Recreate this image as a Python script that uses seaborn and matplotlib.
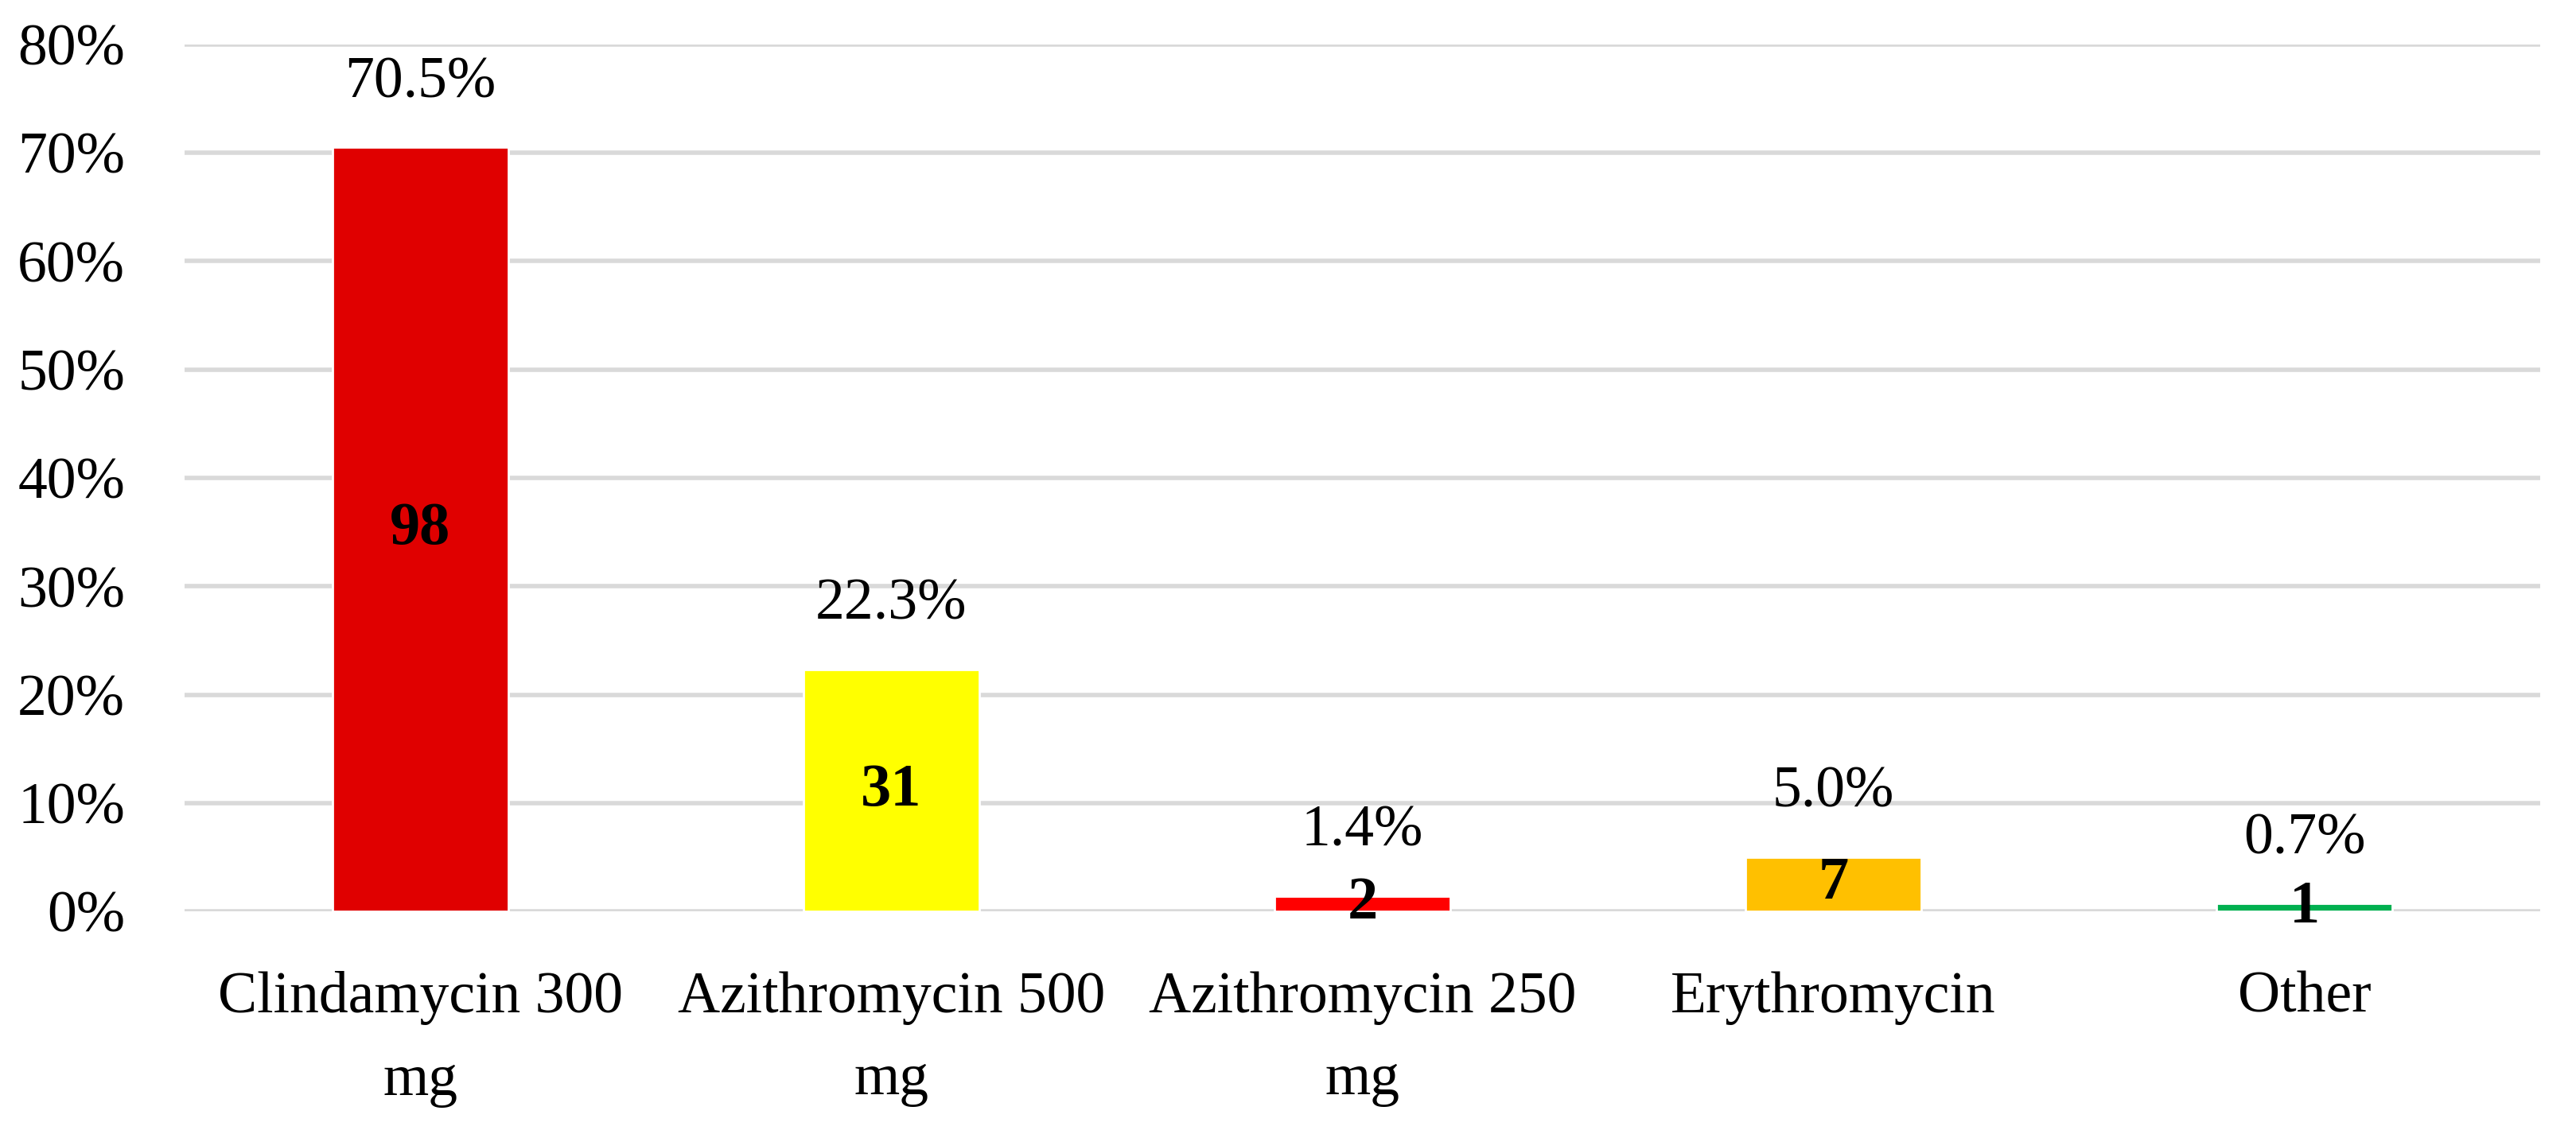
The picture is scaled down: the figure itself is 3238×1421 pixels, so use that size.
import numpy as np
import pandas as pd
import matplotlib
matplotlib.use("Agg")
import matplotlib.pyplot as plt
import seaborn as sns
from matplotlib.ticker import PercentFormatter

# chart data
categories = ["Clindamycin 300 mg", "Azithromycin 500 mg", "Azithromycin 250 mg",
              "Erythromycin", "Other"]
tick_labels = ["Clindamycin 300\nmg", "Azithromycin 500\nmg", "Azithromycin 250\nmg",
               "Erythromycin", "Other"]
percents = [70.5, 22.3, 1.4, 5.0, 0.7]
counts = [98, 31, 2, 7, 1]
bar_colors = ["#E00000", "#FFFF00", "#FF0000", "#FFC000", "#00B050"]
y_ticks = [0, 10, 20, 30, 40, 50, 60, 70, 80]

sns.set_theme(style="white")
plt.rcParams['font.family'] = ['Liberation Serif', 'DejaVu Serif']

df = pd.DataFrame({"drug": categories, "pct": percents})

fig = plt.figure(figsize=(16.19, 7.105), dpi=200)
ax = fig.add_axes([0.0717, 0.1935, 0.9143, 0.7671])

sns.barplot(data=df, x="drug", y="pct", hue="drug", palette=bar_colors,
            legend=False, width=0.373, saturation=1, ax=ax)

ax.set_ylim(0, 80)
ax.set_yticks(y_ticks)
ax.yaxis.set_major_formatter(PercentFormatter(decimals=0))
ax.set_xticks(range(len(categories)))
ax.set_xticklabels(tick_labels, linespacing=1.7)
ax.set_xlim(-0.5, len(categories) - 0.5)
ax.set_xlabel("")
ax.set_ylabel("")

ax.grid(axis="y", color="#D9D9D9", linewidth=2.0)
ax.set_axisbelow(True)
sns.despine(ax=ax, left=True, bottom=True)
ax.tick_params(axis="y", length=0, pad=27, labelsize=26.5, labelcolor="black")
ax.tick_params(axis="x", length=0, pad=27, labelsize=26.5, labelcolor="black")

# percent labels above, counts inside
for cont, p, n in zip(ax.containers, percents, counts):
    ax.bar_label(cont, labels=[f"{p:.1f}%"], padding=17, fontsize=26.5, color="black")
    ax.bar_label(cont, labels=[str(n)], label_type="center", fontsize=27.5,
                 fontweight="bold", color="black")

fig.savefig("out.png", dpi=200)
